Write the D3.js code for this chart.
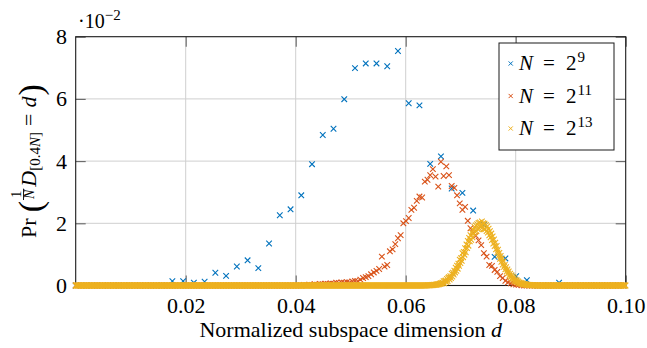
<!DOCTYPE html>
<html><head><meta charset="utf-8">
<script src="https://cdn.jsdelivr.net/npm/d3@7"></script>
<style>
body{margin:0;background:#fff}
svg{display:block}
text{font-family:"Liberation Serif","Times New Roman",serif;fill:#000}
</style>
</head><body>
<svg id="c" width="647" height="348"></svg>
<script>
// ---- data ----
const n9Bins = 512, n11Bins = 2048, n13Bins = 8192;
const seriesExponents = ["9", "11", "13"];
const seriesColors = ["#0072BD", "#D95319", "#EDB120"];
const xTicks = [0.02, 0.04, 0.06, 0.08, 0.10];
const xTickLabels = ["0.02", "0.04", "0.06", "0.08", "0.10"];
const yTicks = [0, 2, 4, 6, 8];
const yTickLabels = ["0", "2", "4", "6", "8"];

// probabilities in units of 1e-2, one per bin k (d = k / bins)
const prN9 = [
0,0,0,0,0,0,0,0,0,
0.14,0.14,0.09,0.12,0.41,0.31,0.61,0.81,0.56,1.35,
2.26,2.45,2.90,3.90,4.84,5.04,5.99,6.99,7.14,7.14,
7.05,7.54,5.86,5.79,3.91,4.15,3.12,2.98,2.41,1.96,
0.92,0.87,0.30,0.17,0,0,0.09,
0,0,0,0,0,0];

const prN11 = [
0,0,0,0,0,0,0,0,0,0,
0,0,0,0,0,0,0,0,0,0,
0,0,0,0,0,0,0,0,0,0,
0,0,0,0,0,0,0,0,0,0,
0,0,0,0,0,0,0,0,0,0,
0,0,0,0,0,0,0,0,0,0,
0,0,0,0,0,0,0,0,0,0,
0,0,0,0,0,0,0,0,0,0,
0,0,0,0,0,
0.02,0.01,0.03,0.02,0.04,0.03,0.05,0.04,0.06,0.05,
0.07,0.06,0.09,0.08,0.10,0.09,0.11,0.10,0.13,0.15,
0.14,0.19,0.24,0.27,0.30,0.36,0.42,0.47,0.53,0.93,
0.61,0.66,1.10,1.16,1.33,1.52,1.62,2.00,2.07,2.17,
2.43,2.50,2.72,2.86,2.83,3.34,3.40,3.55,3.74,3.50,
3.18,3.98,3.52,3.83,3.55,3.20,3.14,2.90,2.64,2.43,
2.53,2.08,1.84,1.70,1.60,1.45,1.30,1.04,0.93,0.66,
0.63,0.50,0.44,0.30,0.24,0.15,0.10,0.07,0.04,0.03,
0.02,0.01,
0,0,0,0,0,0,0,0,0,0,
0,0,0,0,0,0,0,0,0,0,
0,0,0,0,0,0,0,0,0,0,
0,0,0,0,0,0,0,0];

const prN13 = [
0,0,0,0,0,0,0,0,0,0, 0,0,0,0,0,0,0,0,0,0,
0,0,0,0,0,0,0,0,0,0, 0,0,0,0,0,0,0,0,0,0,
0,0,0,0,0,0,0,0,0,0, 0,0,0,0,0,0,0,0,0,0,
0,0,0,0,0,0,0,0,0,0, 0,0,0,0,0,0,0,0,0,0,
0,0,0,0,0,0,0,0,0,0, 0,0,0,0,0,0,0,0,0,0,
0,0,0,0,0,0,0,0,0,0, 0,0,0,0,0,0,0,0,0,0,
0,0,0,0,0,0,0,0,0,0, 0,0,0,0,0,0,0,0,0,0,
0,0,0,0,0,0,0,0,0,0, 0,0,0,0,0,0,0,0,0,0,
0,0,0,0,0,0,0,0,0,0, 0,0,0,0,0,0,0,0,0,0,
0,0,0,0,0,0,0,0,0,0, 0,0,0,0,0,0,0,0,0,0,
0,0,0,0,0,0,0,0,0,0, 0,0,0,0,0,0,0,0,0,0,
0,0,0,0,0,0,0,0,0,0, 0,0,0,0,0,0,0,0,0,0,
0,0,0,0,0,0,0,0,0,0, 0,0,0,0,0,0,0,0,0,0,
0,0,0,0,0,0,0,0,0,0, 0,0,0,0,0,0,0,0,0,0,
0,0,0,0,0,0,0,0,0,0, 0,0,0,0,0,0,0,0,0,0,
0,0,0,0,0,0,0,0,0,0, 0,0,0,0,0,0,0,0,0,0,
0,0,0,0,0,0,0,0,0,0, 0,0,0,0,0,0,0,0,0,0,
0,0,0,0,0,0,0,0,0,0, 0,0,0,0,0,0,0,0,0,0,
0,0,0,0,0,0,0,0,0,0, 0,0,0,0,0,0,0,0,0,0,
0,0,0,0,0,0,0,0,0,0, 0,0,0,0,0,0,0,0,0,0,
0,0,0,0,0,0,0,0,0,0, 0,0,0,0,0,0,0,0,0,0,
0,0,0,0,0,0,0,0,0,0, 0,0,0,0,0,0,0,0,0,0,
0,0,0,0,0,0,0,0,0,0, 0,0,0,0,0,0,0,0,0,0,
0,0,0,0,0,0,0,0,0,0, 0,0,0,0,0,0,0,0,0,0,
0,0,0,0,0,0,0,0,0,0, 0,0,0,0,0,0,0,0,0,0,
0,0,0,0,0,0,0,0,0,0,
0,0,0,0,
0,0.002,0,0.001,0.003,0.001,0.002,0.004,0.002,0.005,
0.004,0.007,0.005,0.009,0.006,0.012,0.009,0.015,
0.018,0.014,0.023,0.019,0.03,0.024,0.036,0.031,
0.045,0.038,0.058,0.052,0.072,0.061,0.09,0.083,
0.14,0.07,0.14,0.16,0.11,0.21,0.14,0.24,
0.27,0.19,0.30,0.24,0.38,0.29,0.41,0.35,
0.48,0.42,0.57,0.47,0.64,0.54,0.70,0.63,
0.83,0.72,0.88,0.79,1.04,0.91,1.08,0.99,
1.20,1.07,1.32,1.20,1.43,1.28,1.53,1.42,
1.62,1.47,1.71,1.55,1.79,1.67,1.88,1.72,
1.93,1.75,1.97,1.81,2.01,1.84,2.03,1.88,
1.96,
2.06,1.87,2.00,1.81,1.99,1.81,1.95,1.75,
1.90,1.70,1.83,1.61,1.75,1.55,1.67,1.46,
1.58,1.35,1.48,1.27,1.38,1.16,1.27,1.06,
1.15,0.96,1.05,0.86,0.95,0.76,0.86,0.67,
0.77,0.60,0.66,0.52,0.59,0.45,0.52,0.39,
0.45,0.32,0.38,0.27,0.33,0.22,0.28,0.18,
0.24,0.14,0.19,0.13,0.16,0.10,0.13,0.08,
0.10,0.07,0.08,0.058,0.066,0.045,0.05,0.036,
0.04,0.027,0.031,0.022,0.025,0.017,0.019,0.013,
0.015,0.009,0.012,0.007,0.008,0.005,0.006,0.004,
0.005,0.002,0.003,0.001,0.002,0,0.001,0,0,0,
0,0,0,0,0,0,0,0,0,0, 0,0,0,0,0,0,0,0,0,0,
0,0,0,0,0,0,0,0,0,0, 0,0,0,0,0,0,0,0,0,0,
0,0,0,0,0,0,0,0,0,0, 0,0,0,0,0,0,0,0,0,0,
0,0,0,0,0,0,0,0,0,0, 0,0,0,0,0,0,0,0,0,0,
0,0,0,0,0,0,0,0,0,0, 0,0,0,0,0,0,0,0,0,0,
0,0,0,0,0,0,0,0,0,0, 0,0,0,0,0,0,0,0,0,0,
0,0,0,0,0];

// ---- layout ----
const L = 75.7, R = 625.7, T = 36.7, B = 285.5;
const FS = 22;
const svg = d3.select("#c");
const x = d3.scaleLinear().domain([0, 0.1]).range([L, R]);
const y = d3.scaleLinear().domain([0, 8]).range([B, T]);

// grid
const grid = svg.append("g").attr("stroke", "#cfcfcf").attr("stroke-width", 1);
grid.selectAll(".gx").data(xTicks.filter(v => v < 0.1)).join("line")
  .attr("x1", d => x(d)).attr("x2", d => x(d)).attr("y1", T).attr("y2", B);
grid.selectAll(".gy").data(yTicks.filter(v => v > 0 && v < 8)).join("line")
  .attr("x1", L).attr("x2", R).attr("y1", d => y(d)).attr("y2", d => y(d));

// axes (inward ticks on all sides)
function styleAxis(g) {
  g.select(".domain").remove();
  g.selectAll(".tick line").attr("stroke", "#666").attr("stroke-width", 1.1);
  g.selectAll(".tick text").attr("font-size", FS).attr("font-family", '"Liberation Serif", serif').attr("fill", "#000");
}
svg.append("g").attr("transform", `translate(0,${B})`)
  .call(d3.axisBottom(x).tickValues(xTicks).tickFormat((d, i) => xTickLabels[i]).tickSizeInner(-10).tickSizeOuter(0).tickPadding(12))
  .call(styleAxis);
svg.append("g").attr("transform", `translate(0,${T})`)
  .call(d3.axisTop(x).tickValues(xTicks).tickFormat("").tickSizeInner(-10).tickSizeOuter(0))
  .call(styleAxis);
svg.append("g").attr("transform", `translate(${L},0)`)
  .call(d3.axisLeft(y).tickValues(yTicks).tickFormat((d, i) => yTickLabels[i]).tickSizeInner(-10).tickSizeOuter(0).tickPadding(8.7))
  .call(styleAxis);
svg.append("g").attr("transform", `translate(${R},0)`)
  .call(d3.axisRight(y).tickValues(yTicks).tickFormat("").tickSizeInner(-10).tickSizeOuter(0))
  .call(styleAxis);

// frame
svg.append("rect").attr("x", L).attr("y", T).attr("width", R - L).attr("height", B - T)
  .attr("fill", "none").attr("stroke", "#1a1a1a").attr("stroke-width", 1.1);

// markers
function cross(s) { return `M${-s},${-s}L${s},${s}M${-s},${s}L${s},${-s}`; }
const series = [
  { vals: prN9, bins: n9Bins },
  { vals: prN11, bins: n11Bins },
  { vals: prN13, bins: n13Bins }
];
series.forEach((s, si) => {
  svg.append("g").attr("fill", "none").attr("stroke", seriesColors[si]).attr("stroke-width", 1.1)
    .selectAll("path").data(s.vals).join("path")
    .attr("d", cross(2.8))
    .attr("transform", (v, i) => `translate(${x(i / s.bins)},${y(v)})`);
});

// legend
const lg = svg.append("g");
lg.append("rect").attr("x", 499).attr("y", 43).attr("width", 115).attr("height", 107)
  .attr("fill", "#fff").attr("stroke", "#1a1a1a").attr("stroke-width", 1);
seriesExponents.forEach((e, i) => {
  const by = 70 + i * 32.5;
  lg.append("path").attr("d", cross(2.1)).attr("fill", "none").attr("stroke", seriesColors[i]).attr("stroke-width", 1)
    .attr("transform", `translate(510.7,${by - 6.5})`);
  const t = lg.append("text").attr("y", by).attr("font-size", 21);
  t.append("tspan").attr("x", 519).attr("font-style", "italic").text("N");
  t.append("tspan").attr("x", 543).text("=");
  t.append("tspan").attr("x", 566).text("2");
  t.append("tspan").attr("x", 577.5).attr("dy", -8).attr("font-size", 15).text(e);
});

// multiplier
const mt = svg.append("text").attr("x", 78).attr("y", 28).attr("font-size", 20);
mt.append("tspan").text("\u00b710");
mt.append("tspan").attr("dy", -8).attr("font-size", 15).text("\u22122");

// x label
const xl = svg.append("text").attr("x", (L + R) / 2).attr("y", 337).attr("text-anchor", "middle").attr("font-size", FS);
xl.append("tspan").text("Normalized subspace dimension ");
xl.append("tspan").attr("font-style", "italic").text("d");

// y label (rotated, built piecewise)
const yg = svg.append("g");
let cx = 0;
function put(txt, o) {
  o = o || {};
  const t = yg.append("text").attr("x", cx + (o.pre || 0)).attr("y", o.y || 0)
    .attr("font-size", o.fs || FS).attr("font-style", o.it ? "italic" : null).text(txt);
  const w = t.node().getComputedTextLength();
  cx += (o.pre || 0) + w + (o.post || 0);
  return t;
}
put("Pr", { post: 6 });
put("(", { fs: 34, y: 6, post: 1 });
// fraction 1/N
{
  const fx = cx;
  const num = yg.append("text").attr("y", -15.5).attr("font-size", 14).text("1");
  const den = yg.append("text").attr("y", -2).attr("font-size", 14).attr("font-style", "italic").text("N");
  const wn = num.node().getComputedTextLength(), wd = den.node().getComputedTextLength();
  const fw = Math.max(wn, wd) + 2;
  num.attr("x", fx + (fw - wn) / 2);
  den.attr("x", fx + (fw - wd) / 2);
  yg.append("line").attr("x1", fx).attr("x2", fx + fw).attr("y1", -12.5).attr("y2", -12.5)
    .attr("stroke", "#000").attr("stroke-width", 0.9);
  cx += fw + 2;
}
put("D", { it: true, post: 0 });
put("[0.4", { fs: 15, y: 4 });
put("N", { fs: 15, y: 4, it: true });
put("]", { fs: 15, y: 4, post: 6 });
put("=", { post: 6 });
put("d", { it: true, post: 1 });
put(")", { fs: 34, y: 6 });
yg.attr("transform", `translate(36,${(T + B) / 2 + cx / 2}) rotate(-90)`);
</script>
</body></html>
